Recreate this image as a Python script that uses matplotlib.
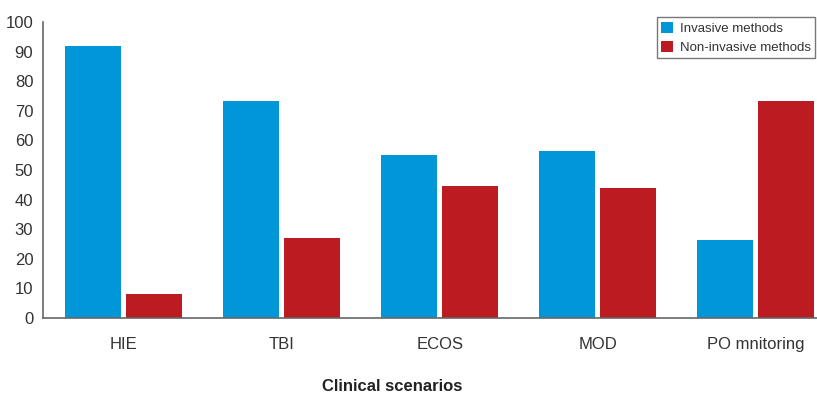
import numpy as np
import matplotlib
matplotlib.use("Agg")
from matplotlib import pyplot as plt

categories = ["HIE", "TBI", "ECOS", "MOD", "PO mnitoring"]
invasive = [92, 73.3, 55, 56.4, 26.4]
non_invasive = [8.1, 27, 44.6, 43.9, 73.3]
yticks = list(range(0, 101, 10))

plt.rcParams['font.family'] = ['Liberation Sans', 'DejaVu Sans']

fig = plt.figure(figsize=(8.17, 3.94), dpi=100)
ax = fig.add_axes([0.0526, 0.193, 0.9474, 0.751])

x = np.arange(len(categories))
w = 0.354
off = 0.193
ax.bar(x - off, invasive, w, color="#0096d8", label="Invasive methods")
ax.bar(x + off, non_invasive, w, color="#bc1b21", label="Non-invasive methods")

ax.set_xlim(-0.512, 4.388)
ax.set_ylim(0, 100)
ax.set_yticks(yticks)
ax.set_xticks(x)
ax.set_xticklabels(categories)
ax.tick_params(axis="both", length=0, labelsize=12, colors="#333333")
ax.tick_params(axis="x", pad=14)
ax.tick_params(axis="y", pad=7)

for s in ["top", "right"]:
    ax.spines[s].set_visible(False)
for s in ["left", "bottom"]:
    ax.spines[s].set_color("#666666")
    ax.spines[s].set_linewidth(1.2)

ax.set_xlabel("Clinical scenarios", fontsize=12, fontweight="bold", color="#222222")
ax.xaxis.set_label_coords(0.451, -0.205)

leg = ax.legend(loc="upper right", bbox_to_anchor=(0.998, 1.017), borderaxespad=0, fontsize=9.5,
                frameon=True, fancybox=False, edgecolor="#555555", handlelength=0.9, handleheight=0.9,
                handletextpad=0.5, borderpad=0.35, labelspacing=0.45)
leg.get_frame().set_linewidth(1.0)
for t in leg.get_texts():
    t.set_color("#333333")

fig.savefig("out.png", dpi=100)
